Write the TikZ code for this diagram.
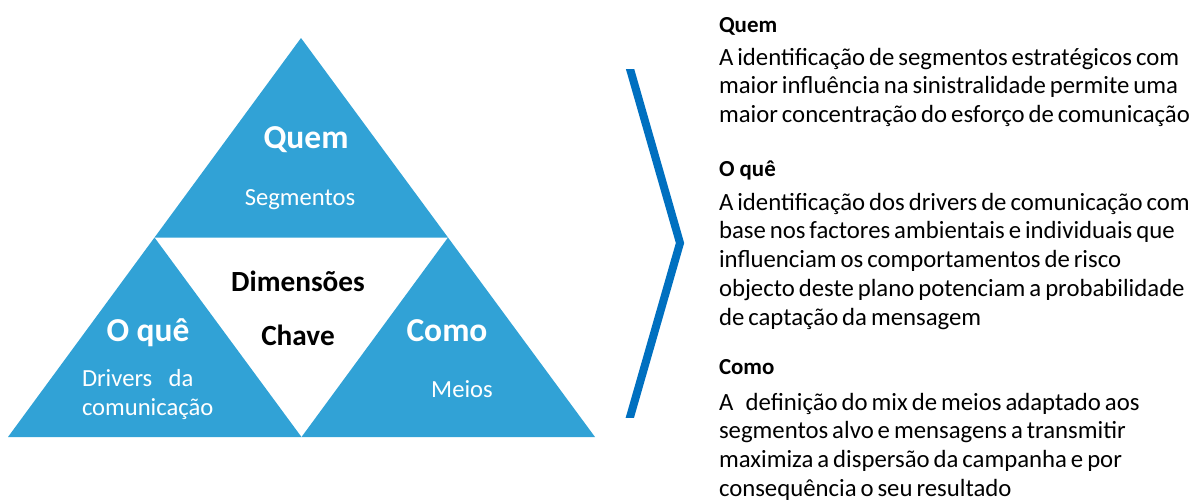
\documentclass[tikz,border=0pt]{standalone}
\usepackage{fontspec}
\setmainfont{Carlito}
\usetikzlibrary{calc}
\definecolor{triblue}{RGB}{49,162,214}
\definecolor{arrowblue}{RGB}{0,112,192}

\begin{document}
\begin{tikzpicture}
[x=0.025cm,y=-0.025cm,every node/.style={inner sep=0pt,outer sep=0pt}]
\tikzset{tri/.style = {fill=triblue}}
\tikzset{biglabel/.style = {text=white,font=\bfseries\fontsize{23.8}{28}\selectfont,anchor=base}}
\tikzset{sublabel/.style = {text=white,font=\fontsize{17.5}{21}\selectfont,anchor=base}}
\tikzset{midlabel/.style = {text=black,font=\bfseries\fontsize{20.8}{24}\selectfont,anchor=base}}
\tikzset{heading/.style = {font=\bfseries\fontsize{16.3}{19}\selectfont,anchor=base west}}
\tikzset{body/.style = {font=\fontsize{17.6}{20.6}\selectfont,anchor=base west,text width=12.5cm,
  execute at begin node={\spaceskip=0.16em plus 0.05em\relax\xspaceskip=0.16em\relax}}}
  \useasboundingbox (0,0) rectangle (1195,500);
  % corners of the big triangle
  \coordinate (l) at (8,437);
  \coordinate (r) at (595,437);
  \coordinate (top) at (301,38);
  \coordinate (ml) at ($(l)!.5!(top)$);
  \coordinate (mr) at ($(r)!.5!(top)$);
  \coordinate (mb) at ($(l)!.5!(r)$);
  \fill[tri] (top) -- (ml) -- (mr) -- cycle;
  \fill[tri] (ml) -- (l) -- (mb) -- cycle;
  \fill[tri] (mr) -- (mb) -- (r) -- cycle;
  % labels
  \node[biglabel] (quem) at (306,148) {Quem};
  \node[sublabel] (seg) at (300,205) {Segmentos};
  \node[midlabel] (dim) at (298,291) {Dimensões};
  \node[midlabel] (chave) at (298,345) {Chave};
  \node[biglabel] (oque) at (148,341) {O quê};
  \node[sublabel,anchor=base west,text width=5cm,align=left,font=\fontsize{17.5}{21.3}\selectfont] (drivers) at (82,386) {Drivers\ \ da\\comunicação};
  \node[biglabel] (como) at (447,341) {Como};
  \node[sublabel] (meios) at (462,397) {Meios};
  % chevron
  \begin{scope}
    \clip (600,69) rectangle (720,417);
    \draw[arrowblue,line width=5.7pt,miter limit=20] (620,34) -- (680,243) -- (620,452);
  \end{scope}
  % right column
  \node[heading] (h1) at (719,32) {Quem};
  \node[body] (t1) at (719,65) {A identificação de segmentos estratégicos com\\maior influência na sinistralidade permite uma\\maior concentração do esforço de comunicação};
  \node[heading] (h2) at (719,176) {O quê};
  \node[body] (t2) at (719,210) {A identificação dos drivers de comunicação com\\base nos factores ambientais e individuais que\\influenciam os comportamentos de risco\\objecto deste plano potenciam a probabilidade\\de captação da mensagem};
  \node[heading] (h3) at (719,374) {Como};
  \node[body] (t3) at (719,410) {A\hspace{0.5em}definição do mix de meios adaptado aos\\segmentos alvo e mensagens a transmitir\\maximiza a dispersão da campanha e por\\consequência o seu resultado};
\end{tikzpicture}
\end{document}
